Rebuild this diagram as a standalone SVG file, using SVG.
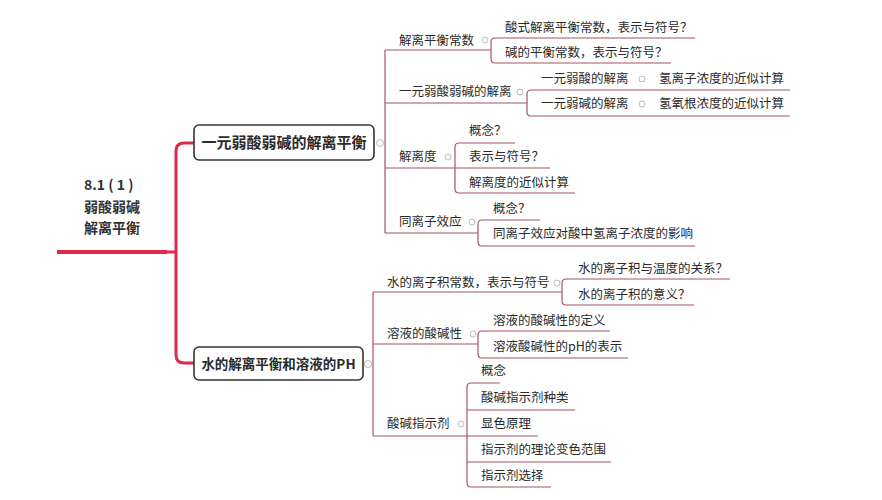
<svg xmlns="http://www.w3.org/2000/svg" width="882" height="500" viewBox="0 0 882 500">
<style>
text{font-family:"Noto Sans CJK SC","Noto Sans",sans-serif;fill:#2a2a2a}
.t{font-size:12.5px}
.b{font-size:15px;font-weight:bold}
.b2{font-size:13.5px;font-weight:bold}
.r{font-size:14px;font-weight:bold;fill:#333}
.l{fill:none;stroke:#a85565;stroke-width:1.2}
.box{fill:#fff;stroke:#333;stroke-width:1.6}
.c{fill:#fff;stroke:#bbb;stroke-width:1}
</style>
<rect width="882" height="500" fill="#fff"/>
<g id="connectors">
<path d="M57 252H167" stroke="#e0284a" stroke-width="4" fill="none"/>
<path d="M167 252H175M194 143H184Q176 143 176 151V355Q176 363 184 363H194" stroke="#e0284a" stroke-width="3" fill="none"/>
<path class="l" d="M385 50V233M385 50H491M385 103H527M385 168H455M385 233H478"/>
<path class="l" d="M695 38H495Q491 38 491 42V59Q491 63 495 63H671"/>
<path class="l" d="M790 90H531Q527 90 527 94V112Q527 116 531 116H790"/>
<path class="l" d="M515 143H459Q455 143 455 147V189Q455 193 459 193H575M455 168H550"/>
<path class="l" d="M540 220H482Q478 220 478 224V242Q478 246 482 246H695"/>
<path class="l" d="M373 292V436M373 292H562M373 344H478M373 436H467"/>
<path class="l" d="M730 279H566Q562 279 562 283V301Q562 305 566 305H694"/>
<path class="l" d="M610 331H482Q478 331 478 335V354Q478 358 482 358H628"/>
<path class="l" d="M500 383H471Q467 383 467 387V483Q467 487 471 487H551M467 410H575M467 436H538M467 462H611"/>
</g>
<g id="root"><text class="r" x="84" y="190">8.1 ( 1 )</text><text class="r" x="84" y="212">弱酸弱碱</text><text class="r" x="84" y="233">解离平衡</text></g>
<g id="n1"><rect class="box" x="194" y="125" width="180" height="35" rx="5"/><text class="b" x="284" y="148" text-anchor="middle">一元弱酸弱碱的解离平衡</text><circle class="c" cx="380" cy="143" r="3.5"/></g>
<g id="n2"><rect class="box" x="194" y="347" width="169" height="33" rx="5"/><text class="b2" x="278.5" y="368.5" text-anchor="middle">水的解离平衡和溶液的PH</text><circle class="c" cx="368" cy="364" r="3.5"/></g>
<g id="n1a"><text class="t" x="399" y="45">解离平衡常数</text><circle class="c" cx="485" cy="40" r="3"/><text class="t" x="505" y="32">酸式解离平衡常数，表示与符号？</text><text class="t" x="505" y="57">碱的平衡常数，表示与符号？</text></g>
<g id="n1b"><text class="t" x="399" y="96">一元弱酸弱碱的解离</text><circle class="c" cx="520" cy="92" r="3"/><text class="t" x="541" y="83">一元弱酸的解离</text><circle class="c" cx="642" cy="79" r="3"/><text class="t" x="659" y="83">氢离子浓度的近似计算</text><text class="t" x="541" y="108">一元弱碱的解离</text><circle class="c" cx="642" cy="104" r="3"/><text class="t" x="659" y="108">氢氧根浓度的近似计算</text></g>
<g id="n1c"><text class="t" x="399" y="161">解离度</text><circle class="c" cx="448" cy="157" r="3"/><text class="t" x="469" y="135">概念？</text><text class="t" x="469" y="161">表示与符号？</text><text class="t" x="469" y="187">解离度的近似计算</text></g>
<g id="n1d"><text class="t" x="399" y="226">同离子效应</text><circle class="c" cx="472" cy="222" r="3"/><text class="t" x="493" y="213">概念？</text><text class="t" x="493" y="238">同离子效应对酸中氢离子浓度的影响</text></g>
<g id="n2a"><text class="t" x="387" y="287">水的离子积常数，表示与符号</text><circle class="c" cx="557" cy="283" r="3"/><text class="t" x="578" y="273">水的离子积与温度的关系？</text><text class="t" x="578" y="299">水的离子积的意义？</text></g>
<g id="n2b"><text class="t" x="387" y="338">溶液的酸碱性</text><circle class="c" cx="473" cy="334" r="3"/><text class="t" x="493" y="325">溶液的酸碱性的定义</text><text class="t" x="493" y="351">溶液酸碱性的pH的表示</text></g>
<g id="n2c"><text class="t" x="387" y="428">酸碱指示剂</text><circle class="c" cx="461" cy="424" r="3"/><text class="t" x="481" y="375">概念</text><text class="t" x="481" y="402">酸碱指示剂种类</text><text class="t" x="481" y="428">显色原理</text><text class="t" x="481" y="454">指示剂的理论变色范围</text><text class="t" x="481" y="480">指示剂选择</text></g>
</svg>
